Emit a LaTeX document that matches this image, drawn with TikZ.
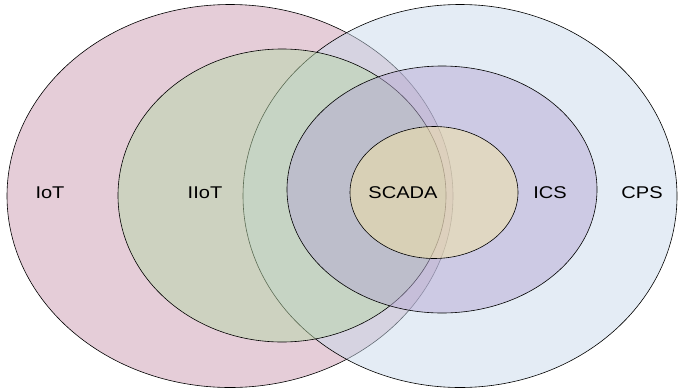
\documentclass[tikz,border=0pt]{standalone}
\usepackage{fontspec}
\setmainfont{Liberation Sans}
\usetikzlibrary{shapes.geometric}
\definecolor{iotcol}{RGB}{203,155,177}
\definecolor{iiotcol}{RGB}{183,215,168}
\definecolor{cpscol}{RGB}{201,217,235}
\definecolor{icscol}{RGB}{182,170,211}
\definecolor{scadacol}{RGB}{245,227,162}
\tikzstyle{set} = [ellipse, draw=black, line width=0.6pt, inner sep=0pt, fill opacity=0.5]
\tikzstyle{label} = [text centered, font=\fontsize{17}{20}\selectfont, xscale=1.18, inner sep=0pt]

\begin{document}
\begin{tikzpicture}[x=1pt, y=-1pt]
		\useasboundingbox (0,0) rectangle (679,391);
		\node (iot) [set, fill=iotcol, minimum width=446pt, minimum height=383pt] at (230,196) {};
		\node (cps) [set, fill=cpscol, minimum width=434pt, minimum height=383pt] at (460,196) {};
		\node (iiot) [set, fill=iiotcol, minimum width=328pt, minimum height=293pt] at (282,195.5) {};
		\node (ics) [set, fill=icscol, minimum width=310pt, minimum height=247pt] at (442,189.5) {};
		\node (scada) [set, fill=scadacol, minimum width=168pt, minimum height=132pt] at (434,192.5) {};
		\node (liot) [label] at (50,193) {IoT};
		\node (liiot) [label] at (205,193) {IIoT};
		\node (lscada) [label] at (403,193) {SCADA};
		\node (lics) [label] at (550,193) {ICS};
		\node (lcps) [label] at (642,193) {CPS};
\end{tikzpicture}
\end{document}
